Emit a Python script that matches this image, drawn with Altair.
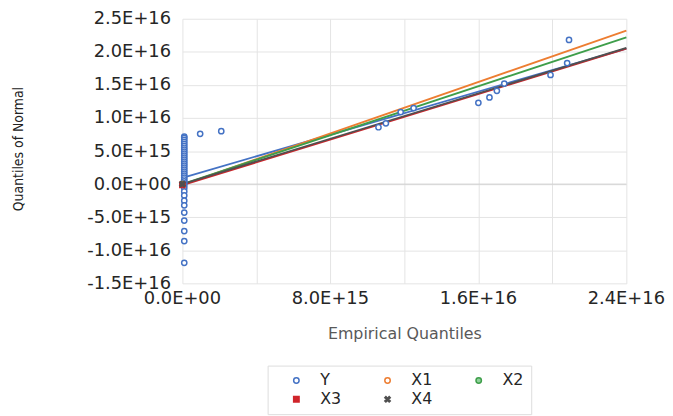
import altair as alt
import pandas as pd

# ---- data ----
y_col_x = [1.0e14] * 36
y_col_y = [7.2e15, 7.0e15, 6.7e15, 6.4e15, 6.1e15, 5.8e15, 5.5e15, 5.2e15, 4.9e15,
           4.6e15, 4.3e15, 4.0e15, 3.7e15, 3.4e15, 3.1e15, 2.8e15, 2.5e15, 2.2e15,
           1.9e15, 1.6e15, 1.3e15, 1.0e15, 0.7e15, 0.4e15, 0.1e15, -0.2e15, -0.6e15,
           -1.1e15, -1.7e15, -2.5e15, -3.2e15, -4.3e15, -5.5e15, -7.1e15, -8.6e15, -11.9e15]
y_other_x = [0.96e15, 2.1e15, 1.06e16, 1.10e16, 1.18e16, 1.25e16, 1.60e16, 1.66e16,
             1.70e16, 1.74e16, 1.99e16, 2.08e16, 2.09e16]
y_other_y = [7.6e15, 8.0e15, 8.6e15, 9.2e15, 1.09e16, 1.15e16, 1.23e16, 1.31e16,
             1.41e16, 1.52e16, 1.65e16, 1.83e16, 2.18e16]

x_series = ["X1", "X2", "X3", "X4"]
x_pts_x = [0.0, 0.0, 0.0, 0.0]
x_pts_y = [0.0, 0.0, -0.1e15, 0.0]

line_series = ["Y", "X1", "X2", "X3", "X4"]
line_x0 = [0.0, 0.0, 0.0, 0.0, 0.0]
line_y0 = [0.95e15, -0.1e15, 0.0, -0.15e15, 0.0]
line_x1 = [2.4e16, 2.4e16, 2.4e16, 2.4e16, 2.4e16]
line_y1 = [2.05e16, 2.32e16, 2.22e16, 2.05e16, 2.06e16]

x_tick_values = [0, 4e15, 8e15, 1.2e16, 1.6e16, 2.0e16, 2.4e16]
x_label_values = [0, 8e15, 1.6e16, 2.4e16]
y_tick_values = [-1.5e16, -1e16, -5e15, 0, 5e15, 1e16, 1.5e16, 2e16, 2.5e16]

series_names = ["Y", "X1", "X2", "X3", "X4"]
stroke_colors = ["#4472C4", "#ED7D31", "#3E9E4A", "#D0252B", "#505050"]
fill_colors = ["white", "white", "#8fd19a", "#D0252B", "#505050"]
xshape = "M-1,-0.6L-0.6,-1L0,-0.4L0.6,-1L1,-0.6L0.4,0L1,0.6L0.6,1L0,0.4L-0.6,1L-1,0.6L-0.4,0Z"
shapes = ["circle", "circle", "circle", "square", xshape]

pts = pd.DataFrame({
    "series": ["Y"] * (len(y_col_x) + len(y_other_x)) + x_series,
    "x": y_col_x + y_other_x + x_pts_x,
    "y": y_col_y + y_other_y + x_pts_y,
})
lines = pd.DataFrame({"series": line_series, "x0": line_x0, "y0": line_y0,
                      "x1": line_x1, "y1": line_y1})
xlab = pd.DataFrame({"v": x_label_values})

fmt = ("datum.value == 0 ? '0.0E+00' : "
       "replace(replace(format(datum.value, '.1e'), 'e', 'E'), '\u2212', '-')")
tfmt = "datum.v == 0 ? '0.0E+00' : replace(format(datum.v, '.1e'), 'e', 'E')"

xscale = alt.Scale(domain=[0, 2.4e16], nice=False)
yscale = alt.Scale(domain=[-1.5e16, 2.5e16], nice=False)

xaxis = alt.Axis(values=x_tick_values, labels=False,
                 title="Empirical Quantiles", ticks=False, domain=False,
                 titleY=43, titleBaseline="top")
yaxis = alt.Axis(values=y_tick_values,
                 labelExpr=fmt, title="Quantiles of Normal", ticks=False, domain=False,
                 labelPadding=12, titleX=-165, titleY=131, titleBaseline="middle",
                 titleFont="'DejaVu Sans Condensed', 'Liberation Sans'",
                 titleFontSize=14, titleFontWeight="normal", titleColor="#222222")

base_zero = alt.Chart(pd.DataFrame({"z": [0]})).mark_rule(color="#cfcfcf", strokeWidth=1).encode(
    y=alt.Y("z:Q", scale=yscale, axis=yaxis)
)

# x-axis labels drawn as text at the bottom of the plot
xlabels = alt.Chart(xlab).transform_calculate(lab=tfmt).mark_text(
    baseline="top", dy=7, font="DejaVu Sans", fontSize=18, color="#262626"
).encode(
    x=alt.X("v:Q", scale=xscale, axis=xaxis),
    y=alt.value(267),
    text="lab:N",
)

# one rule layer per series (fixed colour, no scale -> no legend interference)
rule_layers = []
for name, col in zip(series_names, stroke_colors):
    rule_layers.append(
        alt.Chart(lines[lines["series"] == name]).mark_rule(strokeWidth=1.8, color=col).encode(
            x=alt.X("x0:Q", scale=xscale, axis=xaxis),
            y=alt.Y("y0:Q", scale=yscale, axis=yaxis),
            x2="x1:Q",
            y2="y1:Q",
        )
    )

leg = alt.Legend(title=None, orient="none", legendX=86, legendY=350, columns=3,
                 direction="horizontal", gridAlign="all", padding=7,
                 strokeColor="#dddddd", fillColor="white",
                 labelFont="DejaVu Sans", labelFontSize=16, labelColor="#262626",
                 symbolSize=30, symbolStrokeWidth=1.5, columnPadding=24, rowPadding=3,
                 labelOffset=16, symbolOffset=14)
points = alt.Chart(pts).mark_point(size=28, strokeWidth=1.5, opacity=1).encode(
    x=alt.X("x:Q", scale=xscale, axis=xaxis),
    y=alt.Y("y:Q", scale=yscale, axis=yaxis),
    stroke=alt.Stroke("series:N", scale=alt.Scale(domain=series_names, range=stroke_colors),
                      legend=leg),
    fill=alt.Fill("series:N", scale=alt.Scale(domain=series_names, range=fill_colors),
                  legend=leg),
    shape=alt.Shape("series:N", scale=alt.Scale(domain=series_names, range=shapes),
                    legend=leg),
)

chart = alt.layer(base_zero, *rule_layers, points, xlabels).properties(
    width=448, height=267,
    padding={"left": 4, "top": 0, "right": 0, "bottom": 0},
).configure_view(stroke=None).configure_axis(
    gridColor="#e4e4e4", gridWidth=1,
    labelFont="DejaVu Sans", labelFontSize=18, labelColor="#262626",
    titleFont="DejaVu Sans", titleFontSize=16, titleColor="#595959", titleFontWeight="normal",
)

chart.save("out.html", embed_options={"renderer": "svg", "actions": False})
